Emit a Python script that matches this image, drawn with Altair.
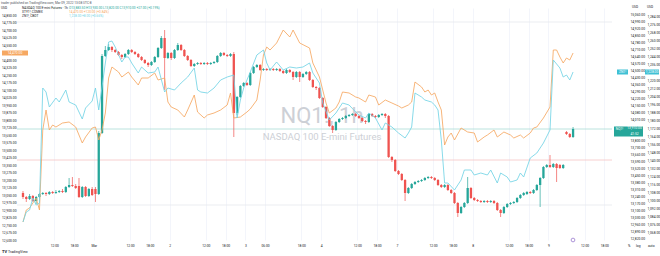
import altair as alt
import pandas as pd

# ---------------- data ----------------
bar_index = list(range(168))
nq_open = [13270,13230,13210,13240,13190,13230,13260,13270,13260,13280,
           13270,13280,13290,13280,13330,13350,13340,13340,13230,13330,
           13240,13310,13310,13260,13870,14640,14700,14730,14700,14680,
           14650,14630,14660,14700,14680,14660,14630,14600,14570,14550,
           14580,14630,14720,14820,14620,14670,14620,14700,14750,14700,
           14640,14600,14540,14560,14570,14560,14570,14560,14570,14580,
           14640,14670,14650,14640,14660,14070,14230,14340,14370,14350,
           14470,14530,14550,14500,14510,14500,14510,14500,14510,14490,
           14470,14500,14480,14430,14480,14430,14460,14480,14400,14330,
           14320,14220,14130,14020,13940,13900,13980,14010,14020,14040,
           14050,14060,14040,14020,13990,13980,14060,14040,14030,14050,
           14060,14040,13630,13600,13490,13460,13400,13270,13320,13360,
           13380,13390,13400,13420,13430,13420,13400,13350,13330,13350,
           13300,13270,13170,13070,13130,13170,13320,13220,13200,13190,
           13180,13190,13180,13190,13170,13100,13070,13130,13160,13170,
           13180,13220,13250,13260,13280,13270,13300,13350,13420,13530,
           13550,13530,13560,13550,13520,13880,13860,13830]
nq_close = [13230,13210,13240,13190,13230,13260,13270,13260,13280,13270,
            13280,13290,13280,13330,13350,13340,13320,13230,13330,13240,
            13310,13250,13260,13870,14640,14700,14730,14700,14680,14650,
            14630,14660,14700,14680,14660,14630,14600,14570,14550,14580,
            14630,14720,14820,14620,14670,14620,14700,14750,14700,14640,
            14600,14540,14560,14570,14560,14570,14560,14570,14580,14640,
            14670,14650,14640,14660,14070,14230,14340,14370,14350,14470,
            14530,14550,14500,14510,14500,14510,14500,14510,14490,14470,
            14500,14480,14430,14480,14430,14460,14480,14400,14330,14320,
            14220,14130,14020,13940,13900,13980,14010,14020,14040,14050,
            14060,14040,14020,13990,13980,14060,14040,14030,14050,14060,
            14040,13630,13600,13490,13460,13400,13270,13320,13360,13380,
            13390,13400,13420,13430,13420,13400,13350,13330,13350,13300,
            13270,13170,13070,13130,13170,13320,13220,13200,13190,13180,
            13190,13180,13190,13170,13100,13070,13130,13160,13170,13180,
            13220,13250,13270,13280,13270,13300,13350,13420,13530,13550,
            13530,13560,13520,13520,13550,13860,13830,13910]
nq_high = [13290,13240,13260,13250,13240,13270,13280,13280,13290,13290,
           13300,13300,13310,13340,13420,13430,13360,13420,13340,13340,
           13320,13330,13330,13890,14660,14740,14760,14740,14710,14690,
           14660,14670,14710,14710,14690,14670,14640,14610,14580,14590,
           14640,14730,14840,14900,14680,14680,14710,14770,14760,14710,
           14650,14610,14570,14580,14580,14580,14580,14580,14590,14650,
           14680,14680,14660,14670,14680,14240,14350,14380,14380,14480,
           14540,14560,14560,14520,14520,14520,14520,14520,14520,14500,
           14510,14510,14490,14490,14490,14470,14490,14490,14410,14340,
           14330,14230,14140,14030,13950,13990,14020,14030,14050,14060,
           14070,14070,14050,14030,14000,14070,14070,14050,14060,14070,
           14070,14050,13640,13610,13500,13470,13410,13330,13370,13390,
           13400,13410,13430,13440,13440,13430,13410,13360,13360,13360,
           13310,13280,13180,13140,13180,13430,13330,13230,13210,13200,
           13200,13200,13200,13200,13180,13110,13140,13170,13180,13190,
           13230,13260,13280,13290,13290,13310,13360,13430,13540,13560,
           13650,13570,13570,13560,13560,13890,13870,13930]
nq_low = [13210,13180,13200,13180,13160,13220,13250,13240,13250,13260,
          13260,13270,13270,13270,13320,13330,13310,13220,13220,13230,
          13230,13240,13180,13250,13860,14630,14690,14680,14670,14640,
          14610,14620,14650,14670,14650,14620,14590,14560,14530,14540,
          14570,14620,14710,14300,14610,14600,14610,14690,14690,14630,
          14590,14530,14530,14550,14550,14550,14550,14550,14560,14570,
          14630,14640,14630,14630,13830,14050,14220,14330,14340,14340,
          14460,14520,14490,14490,14490,14490,14490,14490,14480,14460,
          14460,14470,14400,14420,14380,14420,14450,14390,14320,14300,
          14210,14120,14010,13930,13870,13890,13970,14000,14010,14030,
          14040,14030,14010,13980,13960,13970,14030,14020,14020,14040,
          14020,13620,13580,13480,13450,13390,13190,13260,13310,13350,
          13370,13380,13390,13410,13410,13390,13340,13320,13320,13290,
          13260,13160,13030,13060,13120,13160,13210,13190,13180,13170,
          13170,13170,13170,13160,13090,13030,13060,13120,13150,13160,
          13170,13210,13240,13250,13260,13260,13290,13130,13410,13520,
          13520,13520,13380,13510,13510,13850,13820,13820]

orange_idx = [0,1,2,4,5,6,7,8,9,10,12,14,16,18,19,21,22,23,24,25,
              26,27,29,30,32,33,35,36,38,40,41,43,44,45,47,49,50,52,53,55,
              56,58,60,62,63,64,66,68,69,71,72,73,74,75,77,79,81,82,84,87,
              88,90,91,92,93,95,96,97,99,101,102,104,105,107,108,110,112,114,115,117,
              118,119,121,122,123,124,125,126,127,128,129,130,131,133,135,137,138,140,141,143,
              144,146,148,149,151,152,154,155,156,158,160,161,162,163,164,165,166,167]
orange_val = [12780,12900,12920,13020,12900,13700,13900,13700,13750,13730,
              13770,13780,13730,13570,13630,13720,13730,13600,13700,13870,
              14220,14330,14280,14230,14280,14230,14150,14220,14220,14270,
              14200,14220,13980,13930,13900,13830,13900,14050,13880,13820,
              13850,13870,13900,13950,14070,13820,13830,13880,13910,14000,
              14200,14450,14530,14500,14570,14700,14630,14700,14570,14520,
              14370,14230,14100,13970,13870,13920,13980,14080,14070,14030,
              14020,13980,14050,14030,13950,14000,13970,13940,13920,13950,
              13980,14180,14130,14080,14100,14050,14070,13980,13900,13550,
              13630,13670,13600,13720,13680,13670,13580,13630,13650,13700,
              13630,13680,13650,13620,13650,13620,13670,13720,13730,13820,
              13930,14500,14500,14430,14370,14420,14400,14470]

cyan_idx = [0,1,2,3,4,5,6,7,8,10,11,13,14,16,18,19,21,22,23,24,
            25,26,27,28,30,31,32,33,35,36,38,40,41,43,44,46,48,50,52,53,
            54,56,58,60,62,64,65,66,67,69,71,73,74,75,77,79,81,83,85,87,
            88,90,91,93,95,97,99,101,102,104,105,107,109,110,112,114,116,117,118,119,
            121,122,124,125,126,127,128,129,131,133,134,136,137,139,141,142,144,145,147,148,
            150,151,152,154,156,158,160,161,163,164,165,166,167]
cyan_val = [1078,1088,1090,1102,1095,1097,1212,1208,1193,1202,
            1198,1210,1198,1195,1181,1192,1199,1212,1190,1213,
            1237,1258,1259,1253,1238,1243,1243,1237,1227,1233,
            1227,1228,1233,1208,1212,1210,1217,1223,1232,1210,
            1208,1207,1212,1220,1223,1225,1182,1200,1212,1228,
            1245,1250,1237,1230,1238,1230,1233,1232,1233,1237,
            1227,1217,1197,1180,1187,1197,1195,1188,1185,1182,
            1187,1182,1170,1177,1173,1167,1162,1167,1173,1207,
            1203,1200,1198,1195,1190,1160,1117,1117,1110,1120,
            1130,1130,1125,1127,1125,1130,1117,1127,1123,1118,
            1120,1127,1123,1142,1147,1157,1170,1240,1232,1223,
            1225,1220,1228]

x_tick_pos = [9.5, 15.5, 21.5, 32.5, 38.5, 44.5, 55.5, 61.5, 67.5, 73.5, 84.5, 90.5,
              101.5, 107.5, 113.5, 124.5, 130.5, 136.5, 147.5, 153.5, 159.5, 170.5, 176.5]
x_tick_txt = ["12:00", "18:00", "Mar", "12:00", "18:00", "2", "12:00", "18:00", "3",
              "06:00", "18:00", "4", "12:00", "18:00", "7", "12:00", "18:00", "8",
              "12:00", "18:00", "9", "12:00", "18:00"]

# axis labels hidden where a price tag covers them (as TradingView does)
nq_ticks = [v for v in range(12820, 15061, 70) if v not in (13870, 13940)]
orange_ticks = [v for v in range(12600, 14851, 75) if v != 14475]
cyan_ticks = [v for v in range(1068, 1285, 8) if v != 1228]

level_vals = [13910, 13600, 14980, 13150]
level_cols = ["#a9dcd6", "#f5c4c4", "#e6e8ee", "#e6e8ee"]

# ---------------- styling ----------------
FONT = "Roboto"
TXT = "#131722"
UP, DOWN = "#26a69a", "#ef5350"
ORANGE, CYAN = "#f6a862", "#72d3e5"
AX_FS = 3.3

nq_scale = alt.Scale(domain=[12800, 15120], nice=False, zero=False)
or_scale = alt.Scale(domain=[12600, 14920], nice=False, zero=False)
cy_scale = alt.Scale(domain=[1060, 1292], nice=False, zero=False)
x_scale = alt.Scale(domain=[-0.3, 177.3], nice=False, zero=False)

label_expr = ("[" + ",".join("'" + t + "'" for t in x_tick_txt) + "][indexof(["
              + ",".join(str(p) for p in x_tick_pos) + "], datum.value)]")
x_axis = alt.Axis(values=x_tick_pos, labelExpr=label_expr, title=None, ticks=False,
                  domain=False, grid=True, gridColor="#f0f3fa", gridWidth=0.8,
                  labelFontSize=AX_FS, labelFont=FONT, labelColor=TXT, labelPadding=3,
                  labelFlush=False, labelOverlap=False)


def xenc(field):
    return alt.X(f"{field}:Q", scale=x_scale, axis=x_axis)


def yaxis(orient, values, pad):
    return alt.Axis(orient=orient, values=values, format=",.2f", title=None, ticks=False,
                    domain=False, grid=False, labelFontSize=AX_FS, labelFont=FONT,
                    labelColor=TXT, labelPadding=pad, labelOverlap=False, labelFlush=False)


candles = pd.DataFrame({"i": bar_index, "open": nq_open, "high": nq_high,
                        "low": nq_low, "close": nq_close})
candles["dir"] = ["up" if c >= o else "down" for o, c in zip(nq_open, nq_close)]
col = alt.Color("dir:N", scale=alt.Scale(domain=["up", "down"], range=[UP, DOWN]), legend=None)

orange_df = pd.DataFrame({"i": orange_idx, "v": orange_val})
cyan_df = pd.DataFrame({"i": cyan_idx, "v": cyan_val})
levels_df = pd.DataFrame({"v": level_vals, "c": level_cols})

# watermark
wm1 = alt.Chart(pd.DataFrame({"t": ["NQ1!, 1h"]})).mark_text(
    font=FONT, fontSize=22, color="#cdd0d6", align="center", baseline="alphabetic"
).encode(x=alt.value(305), y=alt.value(115), text="t:N")
wm2 = alt.Chart(pd.DataFrame({"t": ["NASDAQ 100 E-mini Futures"]})).mark_text(
    font=FONT, fontSize=9.5, color="#cdd0d6", align="center", baseline="alphabetic"
).encode(x=alt.value(305), y=alt.value(132), text="t:N")

levels = alt.Chart(levels_df).mark_rule(strokeWidth=0.8).encode(
    y=alt.Y("v:Q", scale=nq_scale, axis=None),
    color=alt.Color("c:N", scale=None), x=alt.value(0), x2=alt.value(595))

wicks = alt.Chart(candles).mark_rule(strokeWidth=0.7).encode(
    x=xenc("i"), y=alt.Y("low:Q", scale=nq_scale, axis=None), y2="high:Q", color=col)
bodies = alt.Chart(candles).mark_bar(size=2.3).encode(
    x=xenc("i"), y=alt.Y("open:Q", scale=nq_scale, axis=yaxis("right", nq_ticks, 18)),
    y2="close:Q", color=col)

orange_line = alt.Chart(orange_df).mark_line(color=ORANGE, strokeWidth=0.85).encode(
    x=xenc("i"), y=alt.Y("v:Q", scale=or_scale, axis=yaxis("left", orange_ticks, 1)))
cyan_line = alt.Chart(cyan_df).mark_line(color=CYAN, strokeWidth=0.85).encode(
    x=xenc("i"), y=alt.Y("v:Q", scale=cy_scale, axis=yaxis("right", cyan_ticks, 35)))

# price label boxes
or_last = pd.DataFrame({"v": [orange_val[-1]]})
or_box = alt.Chart(or_last).mark_rule(color=ORANGE, strokeWidth=5, strokeCap="butt").encode(
    x=alt.value(-15), x2=alt.value(11), y=alt.Y("v:Q", scale=or_scale, axis=None))
or_txt = alt.Chart(or_last).mark_text(color="white", fontSize=AX_FS, font=FONT, align="center").encode(
    x=alt.value(-2), y=alt.Y("v:Q", scale=or_scale, axis=None), text=alt.Text("v:Q", format=",.2f"))

cy_last = pd.DataFrame({"v": [cyan_val[-1]], "n": ["ZN1!"]})
cy_box1 = alt.Chart(cy_last).mark_rule(color="#3fc0d4", strokeWidth=5, strokeCap="butt").encode(
    x=alt.value(600), x2=alt.value(611), y=alt.Y("v:Q", scale=cy_scale, axis=None))
cy_txt1 = alt.Chart(cy_last).mark_text(color="white", fontSize=AX_FS, font=FONT, align="center").encode(
    x=alt.value(605.5), y=alt.Y("v:Q", scale=cy_scale, axis=None), text="n:N")
cy_box2 = alt.Chart(cy_last).mark_rule(color="#3fc0d4", strokeWidth=5, strokeCap="butt").encode(
    x=alt.value(628), x2=alt.value(642), y=alt.Y("v:Q", scale=cy_scale, axis=None))
cy_txt2 = alt.Chart(cy_last).mark_text(color="white", fontSize=AX_FS, font=FONT, align="center").encode(
    x=alt.value(635), y=alt.Y("v:Q", scale=cy_scale, axis=None), text=alt.Text("v:Q", format=",.2f"))

nq_last = pd.DataFrame({"v": [nq_close[-1]], "n": ["NQ1!"], "cd": ["41:52"]})
nq_box = alt.Chart(nq_last).mark_rule(color=UP, strokeWidth=10, strokeCap="butt", yOffset=2.5).encode(
    x=alt.value(597), x2=alt.value(626), y=alt.Y("v:Q", scale=nq_scale, axis=None))
nq_txt1 = alt.Chart(nq_last).mark_text(color="white", fontSize=AX_FS, font=FONT, align="center").encode(
    x=alt.value(602.5), y=alt.Y("v:Q", scale=nq_scale, axis=None), text="n:N")
nq_txt2 = alt.Chart(nq_last).mark_text(color="white", fontSize=AX_FS, font=FONT, align="center",
                                       dy=-0.6).encode(
    x=alt.value(617.5), y=alt.Y("v:Q", scale=nq_scale, axis=None), text=alt.Text("v:Q", format=",.2f"))
nq_txt3 = alt.Chart(nq_last).mark_text(color="white", fontSize=AX_FS, font=FONT, align="center",
                                       dy=5.2).encode(
    x=alt.value(617.5), y=alt.Y("v:Q", scale=nq_scale, axis=None), text="cd:N")


def label(txt, x, y, color=TXT, size=3.6, align="left", weight="normal"):
    return alt.Chart(pd.DataFrame({"t": [txt]})).mark_text(
        font=FONT, fontSize=size, color=color, align=align, baseline="middle", fontWeight=weight
    ).encode(x=alt.value(x), y=alt.value(y), text="t:N")


texts = [
    label("trader published on TradingView.com, Mar 09, 2022 13:08 UTC-8", -16, -5, "#50535e", 3.2),
    label("USD", -16, 0, TXT, 3.2),
    label("USD", 615, -1, TXT, 3.2),
    label("USD", 630, -1, TXT, 3.2),
    label("NASDAQ 100 E-mini Futures · 1h", 5, 0, TXT, 3.2),
    label("O13,883.50 H13,930.00 L13,820.00 C13,910.00 +27.00 (+0.19%)", 52, 0, UP, 3.2),
    label("XTY1!, COMEX", 5, 4, TXT, 3.2),
    label("14,470.00 +120.00 (+0.84%)", 52, 4, ORANGE, 3.2),
    label("ZN1!, CBOT", 5, 8, TXT, 3.2),
    label("1,228.00 +8.00 (+0.66%)", 52, 8, CYAN, 3.2),
    label("TV", -15, 244, TXT, 4, weight="bold"),
    label("TradingView", -9, 244, TXT, 3.6),
    label("%", 611, 238, TXT, 3.3),
    label("log", 619, 238, TXT, 3.3),
    label("auto", 631, 238, TXT, 3.3),
]

icon = alt.Chart(pd.DataFrame({"t": ["event"]})).mark_point(
    shape="circle", size=14, stroke="#7e57c2", strokeWidth=0.9, filled=False
).encode(x=alt.value(556), y=alt.value(232))

chart = alt.layer(
    wm1, wm2, levels, wicks, bodies, orange_line, cyan_line,
    or_box, or_txt, cy_box1, cy_txt1, cy_box2, cy_txt2,
    nq_box, nq_txt1, nq_txt2, nq_txt3, icon, *texts
).resolve_scale(y="independent").properties(
    width=595, height=232,
    autosize=alt.AutoSizeParams(type="none"),
    padding={"left": 17, "top": 8, "right": 48, "bottom": 16},
    background="white",
).configure_view(stroke=None)

chart.save("out.html", embed_options={"renderer": "svg", "actions": False})
